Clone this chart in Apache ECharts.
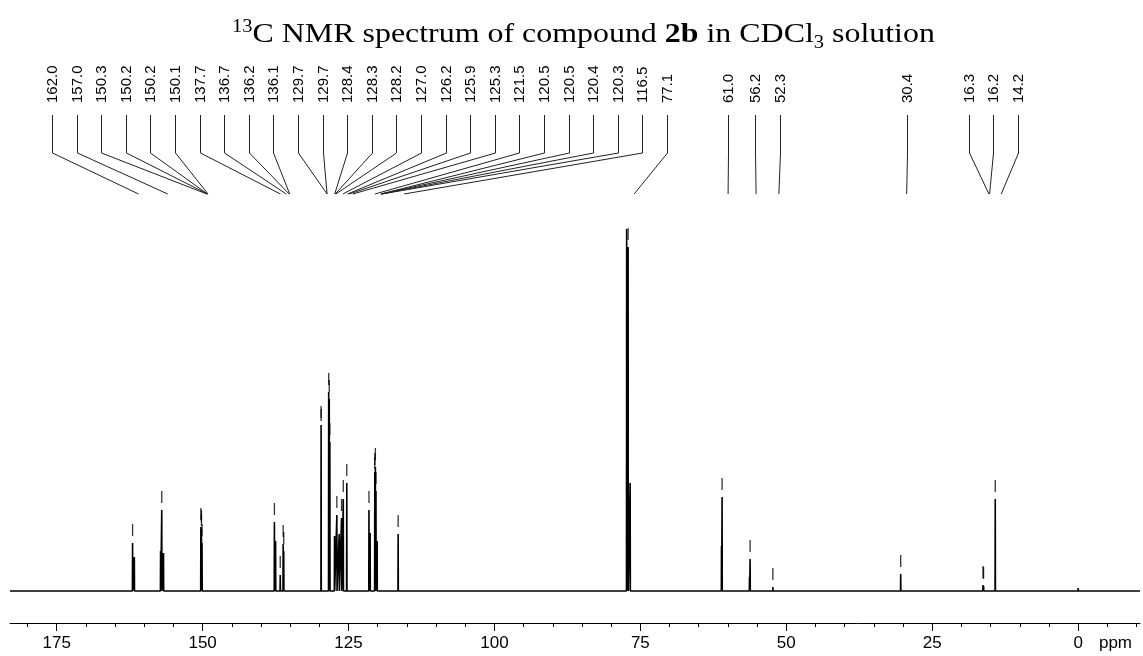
<!DOCTYPE html>
<html>
<head>
<meta charset="utf-8">
<title>13C NMR 2b</title>
<script src="https://cdn.jsdelivr.net/npm/echarts@6/dist/echarts.min.js"></script>
<style>
  html, body { margin: 0; padding: 0; background: #fff; }
  #chart { width: 1143px; height: 656px; }
</style>
</head>
<body>
<div id="chart"></div>
<script>
// picked peaks: label text, position (ppm) and height (arbitrary units)
const pickLabels = ['162.0', '157.0', '150.3', '150.2', '150.2', '150.1', '137.7', '136.7', '136.2', '136.1',
  '129.7', '129.7', '128.4', '128.3', '128.2', '127.0', '126.2', '125.9', '125.3', '121.5',
  '120.5', '120.5', '120.4', '120.3', '116.5', '77.1', '61.0', '56.2', '52.3', '30.4',
  '16.3', '16.2', '14.2']
const pickPpm = [162.0, 157.0, 150.3, 150.2, 150.2, 150.1, 137.7, 136.7, 136.2, 136.1,
  129.7, 129.7, 128.4, 128.3, 128.2, 127.0, 126.2, 125.9, 125.3, 121.5,
  120.5, 120.5, 120.4, 120.3, 116.5, 77.1, 61.0, 56.2, 52.3, 30.4,
  16.3, 16.2, 14.2]
const pickHeight = [48, 81, 64, 62, 58, 48, 69, 16, 47, 40,
  166, 163, 199, 192, 149, 76, 73, 92, 108, 81,
  119, 115, 124, 100, 57, 344, 94, 32, 4, 17,
  6, 5, 92]

// other lines of the multiplets (not labelled)
const extraPpm = [161.7, 157.2, 156.7, 137.5, 127.4, 126.6, 121.3, 120.1, 77.35, 76.75, 61.1, 56.3, 0.0]
const extraHeight = [34, 40, 38, 50, 55, 57, 58, 50, 362, 108, 45, 14, 3]

const majorTicks = [175, 150, 125, 100, 75, 50, 25, 0]
const minorTicks = [180, 170, 165, 160, 155, 145, 140, 135, 130, 120, 115, 110, 105, 95, 90, 85, 80,
  70, 65, 60, 55, 45, 40, 35, 30, 20, 15, 10, 5, -5, -10]
const unitLabel = 'ppm'
const titleText = '{sup|13}{t|C NMR spectrum of compound }{b|2b}{t| in CDCl}{sub|3}{t| solution}'

// layout
const X_MIN = -10.6, X_MAX = 183
const PPM_LABEL_AT = -6.4
const LINE_SHIFT = 6
const LABEL_GAP = 24.6
const LABEL_MIN_X = 52, LABEL_MAX_X = 1125
const FONT = '"Liberation Sans", Arial, sans-serif'
const SERIF = '"Liberation Serif", "Times New Roman", serif'

let chart = echarts.init(document.getElementById('chart'), null, { renderer: 'canvas' })

// spectrum as thin spikes on a flat baseline
let lines = pickPpm.map((p, i) => [p, pickHeight[i]])
  .concat(extraPpm.map((p, i) => [p, extraHeight[i]]))
lines.sort((a, b) => b[0] - a[0])
let spectrum = [[X_MAX, 0]]
lines.forEach(([p, h]) => {
  spectrum.push([p + 0.03, 0], [p, h], [p - 0.03, 0])
})
spectrum.push([X_MIN, 0])

let option = {
  animation: false,
  backgroundColor: '#fff',
  grid: { left: 10, right: 3, top: 200, bottom: 33 },
  xAxis: [{
    type: 'value',
    inverse: true,
    min: X_MIN,
    max: X_MAX,
    splitLine: { show: false },
    axisLine: { show: true, onZero: false, lineStyle: { color: '#000', width: 1 } },
    axisTick: { show: true, length: 8, customValues: majorTicks, lineStyle: { color: '#000' } },
    axisLabel: {
      customValues: majorTicks.concat([PPM_LABEL_AT]),
      formatter: v => (v === PPM_LABEL_AT ? unitLabel : String(v)),
      margin: 12,
      color: '#000',
      fontSize: 17,
      fontFamily: FONT
    }
  }, {
    type: 'value',
    inverse: true,
    min: X_MIN,
    max: X_MAX,
    position: 'bottom',
    splitLine: { show: false },
    axisLine: { show: false, onZero: false },
    axisTick: { show: true, length: 4, customValues: minorTicks, lineStyle: { color: '#000' } },
    axisLabel: { show: false }
  }],
  yAxis: {
    type: 'value',
    min: -32,
    max: 391,
    show: false,
    splitLine: { show: false }
  },
  series: [{
    type: 'line',
    data: spectrum,
    xAxisIndex: 0,
    showSymbol: false,
    symbol: 'none',
    lineStyle: { color: '#000', width: 1.6 },
    silent: true
  }, {
    // peak-pick marks above each picked line
    type: 'scatter',
    xAxisIndex: 0,
    data: pickPpm.map((p, i) => [p, pickHeight[i] + 13]),
    symbol: 'rect',
    symbolSize: [1.3, 12],
    itemStyle: { color: '#000' },
    silent: true
  }]
}
chart.setOption(option)

// spread the labels so they do not overlap, keeping groups centred on their peaks
function spread(xs, gap, lo, hi) {
  let groups = xs.map((x, i) => ({ start: Math.min(Math.max(x, lo), hi), n: 1, sum: x }))
  let again = true
  while (again) {
    again = false
    for (let i = 0; i < groups.length - 1; i++) {
      let a = groups[i], b = groups[i + 1]
      if (a.start + a.n * gap > b.start) {
        let n = a.n + b.n, sum = a.sum + b.sum
        let start = sum / n - (n - 1) * gap / 2
        start = Math.min(Math.max(start, lo), hi - (n - 1) * gap)
        groups.splice(i, 2, { start: start, n: n, sum: sum })
        again = true
        break
      }
    }
  }
  let out = []
  groups.forEach(g => { for (let k = 0; k < g.n; k++) out.push(g.start + k * gap) })
  return out
}

let bottomX = pickPpm.map(p => chart.convertToPixel({ xAxisIndex: 0 }, p) + LINE_SHIFT)
let labelX = spread(bottomX, LABEL_GAP, LABEL_MIN_X, LABEL_MAX_X)

let tok = (size, extra) => Object.assign({
  fontFamily: SERIF, fontSize: size, fontWeight: 'normal', fill: '#000', color: '#000'
}, extra)

let graphic = [{
  type: 'text',
  silent: true,
  x: 232,
  y: 18,
  scaleX: 1.14,
  style: {
    text: titleText,
    textAlign: 'left', textVerticalAlign: 'top', align: 'left', verticalAlign: 'top',
    rich: {
      t: tok(28, { lineHeight: 34 }),
      b: tok(28, { lineHeight: 34, fontWeight: 'bold' }),
      sup: tok(18, { lineHeight: 26, verticalAlign: 'top' }),
      sub: tok(18, { lineHeight: 22, verticalAlign: 'bottom' })
    }
  }
}]
pickLabels.forEach((t, i) => {
  let lx = Math.round(labelX[i]) + 0.5
  graphic.push({
    type: 'polyline',
    silent: true,
    shape: { points: [[lx, 115], [lx, 153], [bottomX[i], 194]] },
    style: { stroke: '#222', lineWidth: 1, fill: null }
  })
  graphic.push({
    type: 'text',
    silent: true,
    x: lx,
    y: 103,
    rotation: Math.PI / 2,
    style: {
      text: t,
      font: '15px ' + FONT,
      fill: '#000',
      textAlign: 'left',
      textVerticalAlign: 'middle',
      align: 'left',
      verticalAlign: 'middle'
    }
  })
})
chart.setOption({ graphic: graphic })
</script>
</body>
</html>
